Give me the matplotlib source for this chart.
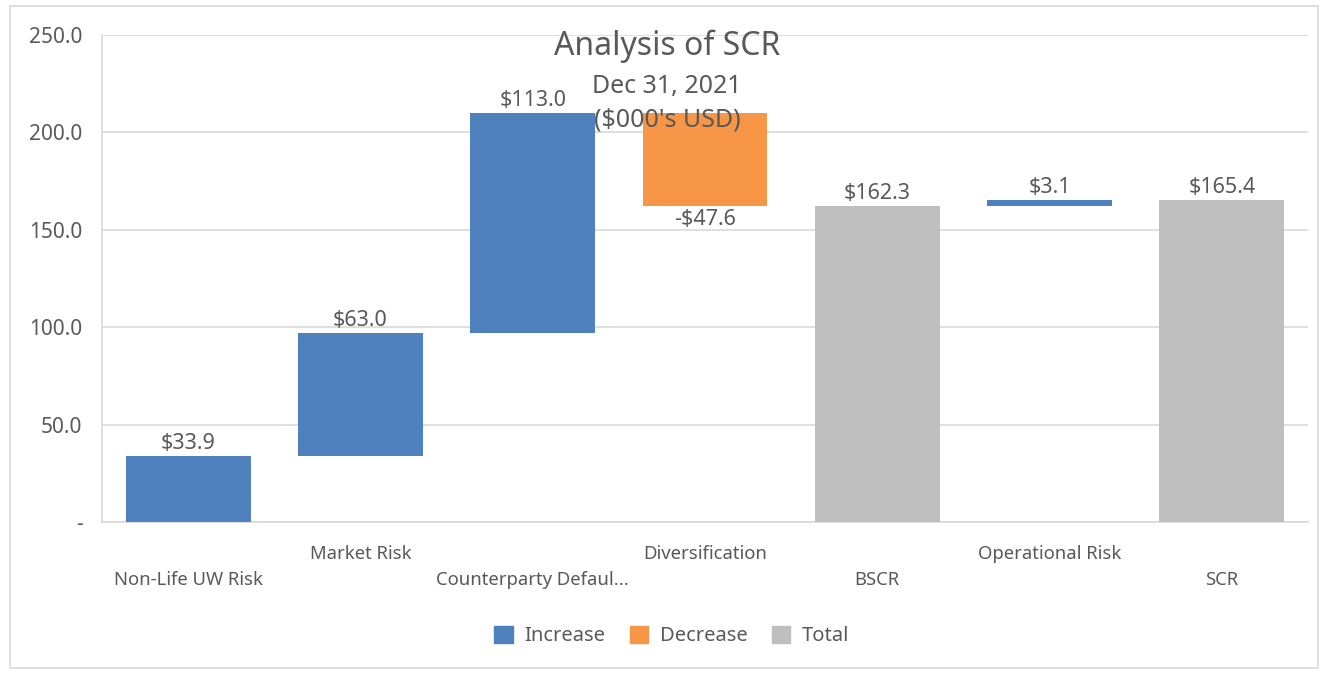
import numpy as np
import matplotlib.pyplot as plt
from matplotlib.patches import Patch, Rectangle

# chart data
categories = ["Non-Life UW Risk", "Market Risk", "Counterparty Defaul...",
              "Diversification", "BSCR", "Operational Risk", "SCR"]
values = [33.9, 63.0, 113.0, -47.6, 162.3, 3.1, 165.4]
kinds = ["inc", "inc", "inc", "dec", "total", "inc", "total"]
labels = ["$33.9", "$63.0", "$113.0", "-$47.6", "$162.3", "$3.1", "$165.4"]
yticks = [0, 50, 100, 150, 200, 250]
ytick_labels = ["-", "50.0", "100.0", "150.0", "200.0", "250.0"]

colors = {"inc": "#4e81bd", "dec": "#f79646", "total": "#bfbfbf"}
text_col = "#595959"

plt.rcParams["font.family"] = ["Noto Sans", "DejaVu Sans"]

fig = plt.figure(figsize=(13.27, 6.76), dpi=100)
ax = fig.add_axes([102 / 1327, 1 - 522 / 676, 1206 / 1327, 487 / 676])

# waterfall bottoms
bottoms = []
running = 0.0
for v, k in zip(values, kinds):
    if k == "total":
        bottoms.append(0.0)
        running = v
    elif v >= 0:
        bottoms.append(running)
        running += v
    else:
        running += v
        bottoms.append(running)
heights = [abs(v) for v in values]

x = np.arange(len(categories))
ax.bar(x, heights, bottom=bottoms, width=0.725,
       color=[colors[k] for k in kinds], zorder=3)

for i, (b, h, k) in enumerate(zip(bottoms, heights, kinds)):
    if k == "dec":
        ax.text(i, b - 1.5, labels[i], ha="center", va="top", fontsize=15.5, color=text_col)
    else:
        ax.text(i, b + h + 1.0, labels[i], ha="center", va="bottom", fontsize=15.5, color=text_col)

ax.set_xlim(-0.5, len(categories) - 0.5)
ax.set_ylim(0, 250)
ax.set_yticks(yticks)
ax.set_yticklabels(ytick_labels, fontsize=15, color=text_col)
ax.yaxis.grid(True, color="#d9d9d9", linewidth=1.2, zorder=0)
ax.tick_params(axis="y", length=0, pad=14)
ax.set_xticks([])
for s in ["top", "right"]:
    ax.spines[s].set_visible(False)
for s in ["left", "bottom"]:
    ax.spines[s].set_color("#d9d9d9")
    ax.spines[s].set_linewidth(1.2)

# staggered category labels
for i, c in enumerate(categories):
    ypix = 554 if i % 2 == 1 else 580
    fig.text((102 + (i + 0.5) * 1206 / 7) / 1327, 1 - ypix / 676, c,
             ha="center", va="center", fontsize=13.3, color=text_col)

# titles
fig.text(667 / 1327, 1 - 46 / 676, "Analysis of SCR", ha="center", va="center",
         fontsize=23, color=text_col)
fig.text(667 / 1327, 1 - 86 / 676, "Dec 31, 2021", ha="center", va="center",
         fontsize=18, color=text_col)
fig.text(667 / 1327, 1 - 120 / 676, "($000's USD)", ha="center", va="center",
         fontsize=18, color=text_col)

# outer border
fig.patches.append(Rectangle((10 / 1327, 8 / 676), 1308 / 1327, 662 / 676,
                             transform=fig.transFigure, fill=False,
                             edgecolor="#d9d9d9", linewidth=1.2))

handles = [Patch(color=colors["inc"], label="Increase"),
           Patch(color=colors["dec"], label="Decrease"),
           Patch(color=colors["total"], label="Total")]
leg = fig.legend(handles=handles, loc="center", bbox_to_anchor=(672 / 1327, 1 - 636 / 676),
                 ncol=3, frameon=False, fontsize=14.5, handlelength=0.9, handleheight=0.9,
                 handletextpad=0.6, columnspacing=1.2)
for t in leg.get_texts():
    t.set_color(text_col)

fig.savefig("out.png", dpi=100)
